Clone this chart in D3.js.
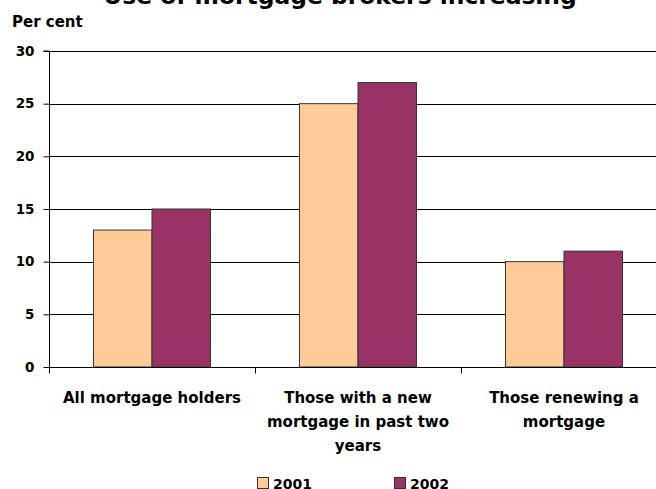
<!DOCTYPE html>
<html>
<head>
<meta charset="utf-8">
<script src="https://cdn.jsdelivr.net/npm/d3@7"></script>
<style>
  html, body { margin: 0; padding: 0; background: #fff; overflow: hidden; }
  svg text { font-family: "DejaVu Sans", sans-serif; font-weight: bold; fill: #000; }
</style>
</head>
<body>
<script>
// chart values
const categories = [
  ["All mortgage holders"],
  ["Those with a new", "mortgage in past two", "years"],
  ["Those renewing a", "mortgage"]
];
const seriesNames = ["2001", "2002"];
const values2001 = [13, 25, 10];
const values2002 = [15, 27, 11];
const yTicks = [0, 5, 10, 15, 20, 25, 30];
const colors = ["#ffcc99", "#993366"];

const w = 656, h = 489;
const plotLeft = 49, plotRight = 667, plotTop = 51, plotBottom = 367;

const svg = d3.select("body")
  .append("svg")
  .attr("width", w)
  .attr("height", h);

const catKeys = categories.map((d, i) => i);

const x = d3.scaleBand()
  .domain(catKeys)
  .range([plotLeft, plotRight])
  .padding(0);

const xInner = d3.scaleBand()
  .domain(seriesNames)
  .range([0, x.bandwidth()])
  .paddingInner(0)
  .paddingOuter(0.76);

const y = d3.scaleLinear()
  .domain([0, 30])
  .range([plotBottom, plotTop]);

// title (cut off at the top in the original)
svg.append("text")
  .attr("x", 340)
  .attr("y", 4)
  .attr("text-anchor", "middle")
  .style("font-size", "23.4px")
  .text("Use of mortgage brokers increasing");

svg.append("text")
  .attr("x", 12)
  .attr("y", 27)
  .style("font-size", "15px")
  .text("Per cent");

// gridlines
svg.append("g")
  .selectAll("line")
  .data(yTicks.filter(d => d > 0))
  .join("line")
  .attr("x1", plotLeft)
  .attr("x2", plotRight)
  .attr("y1", d => Math.round(y(d)) + 0.5)
  .attr("y2", d => Math.round(y(d)) + 0.5)
  .attr("stroke", "#000")
  .attr("stroke-width", 1);

// bars
const rows = catKeys.map(i => ({ i, vals: [values2001[i], values2002[i]] }));

const groups = svg.append("g")
  .selectAll("g")
  .data(rows)
  .join("g")
  .attr("transform", d => `translate(${x(d.i)},0)`);

groups.selectAll("rect")
  .data(d => d.vals.map((v, k) => ({ key: seriesNames[k], v, k })))
  .join("rect")
  .attr("x", d => xInner(d.key))
  .attr("y", d => y(d.v))
  .attr("width", xInner.bandwidth())
  .attr("height", d => plotBottom - y(d.v))
  .attr("fill", d => colors[d.k])
  .attr("stroke", "#333")
  .attr("stroke-width", 1);

// y axis
const yAxis = svg.append("g")
  .attr("transform", `translate(${plotLeft + 0.5},0)`)
  .call(d3.axisLeft(y).tickValues(yTicks).tickSize(6).tickPadding(9));
yAxis.select(".domain").attr("stroke", "#000").attr("d", `M-6,${plotTop}H0V${plotBottom + 6}`);
yAxis.selectAll(".tick line").attr("stroke", "#000");
yAxis.selectAll("text")
  .style("font-size", "13.5px")
  .style("font-family", "'DejaVu Sans', sans-serif")
  .style("font-weight", "bold");

// x axis
const xAxis = svg.append("g")
  .attr("transform", `translate(0,${plotBottom + 0.5})`);
xAxis.append("line")
  .attr("x1", plotLeft)
  .attr("x2", plotRight)
  .attr("stroke", "#000");
xAxis.selectAll(".xt")
  .data(catKeys.concat([categories.length]))
  .join("line")
  .attr("class", "xt")
  .attr("x1", d => d < categories.length ? x(d) + 0.5 : plotRight + 0.5)
  .attr("x2", d => d < categories.length ? x(d) + 0.5 : plotRight + 0.5)
  .attr("y1", 0)
  .attr("y2", 6)
  .attr("stroke", "#000");

svg.append("g")
  .selectAll("text")
  .data(categories)
  .join("text")
  .attr("text-anchor", "middle")
  .style("font-size", "15px")
  .each(function (lines, i) {
    d3.select(this).selectAll("tspan")
      .data(lines)
      .join("tspan")
      .attr("x", x(i) + x.bandwidth() / 2)
      .attr("y", (d, j) => 403 + j * 24)
      .text(d => d);
  });

// legend
const legendX = [257, 394];
const legend = svg.append("g")
  .selectAll("g")
  .data(seriesNames)
  .join("g")
  .attr("transform", (d, i) => `translate(${legendX[i]},477)`);
legend.append("rect")
  .attr("x", 0.5)
  .attr("y", 0.5)
  .attr("width", 11)
  .attr("height", 11)
  .attr("fill", (d, i) => colors[i])
  .attr("stroke", "#333");
legend.append("text")
  .attr("x", 16)
  .attr("y", 11.5)
  .style("font-size", "14px")
  .text(d => d);
</script>
</body>
</html>
